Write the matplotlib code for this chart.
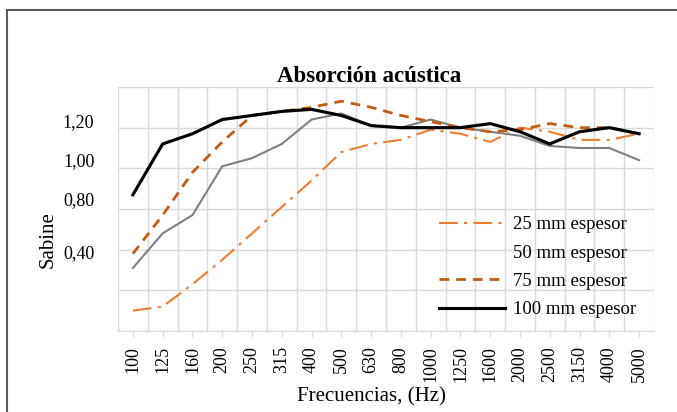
import matplotlib
matplotlib.use("Agg")
import matplotlib.pyplot as plt
from matplotlib.lines import Line2D
from matplotlib.patches import Rectangle

frecuencias = ["100", "125", "160", "200", "250", "315", "400", "500", "630", "800",
               "1000", "1250", "1600", "2000", "2500", "3150", "4000", "5000"]
esp_25 = [0.30, 0.32, 0.43, 0.55, 0.68, 0.81, 0.94, 1.08, 1.12, 1.14, 1.19, 1.17,
          1.13, 1.20, 1.18, 1.14, 1.14, 1.17]
esp_50 = [0.51, 0.68, 0.77, 1.01, 1.05, 1.12, 1.24, 1.27, 1.21, 1.20, 1.24, 1.20,
          1.18, 1.16, 1.11, 1.10, 1.10, 1.04]
esp_75 = [0.58, 0.77, 0.98, 1.13, 1.26, 1.28, 1.30, 1.33, 1.30, 1.26, 1.23, 1.20,
          1.18, 1.19, 1.22, 1.20, 1.20, 1.17]
esp_100 = [0.87, 1.12, 1.17, 1.24, 1.26, 1.28, 1.29, 1.26, 1.21, 1.20, 1.20, 1.20,
           1.22, 1.18, 1.12, 1.18, 1.20, 1.17]
series_labels = ["25 mm espesor", "50 mm espesor", "75 mm espesor", "100 mm espesor"]
ytick_labels = ["1,20", "1,00", "0,80", "0,40"]

SERIF = "Liberation Serif"
fig = plt.figure(figsize=(6.77, 4.12), dpi=100)
ax = fig.add_axes([118/677, 1-331/412, 536/677, 244/412])

x = list(range(len(frecuencias)))
l25, = ax.plot(x, esp_25, color="#ED7D31", lw=1.5, dashes=(9, 3, 1.5, 3), zorder=3)
l50, = ax.plot(x, esp_50, color="#7F7F7F", lw=1.5, zorder=3)
l75, = ax.plot(x, esp_75, color="#C55A11", lw=2.0, dashes=(3.5, 2.5), zorder=3)
l100, = ax.plot(x, esp_100, color="#000000", lw=2.25, zorder=4)

ax.set_xlim(-0.5, len(frecuencias) - 0.5)
ax.set_ylim(0.2, 1.4)

# vertical gridlines at category boundaries
for k in range(len(frecuencias) + 1):
    ax.axvline(k - 0.5, color="#D9D9D9", lw=1.0, zorder=1)
# horizontal gridlines
ax.set_yticks([0.2, 0.4, 0.6, 0.8, 1.0, 1.2, 1.4])
ax.set_yticklabels([""] * 7)
ax.yaxis.grid(True, color="#D9D9D9", lw=1.0)
ax.set_axisbelow(True)
ax.tick_params(axis="y", which="both", length=0)
ax.set_yticks([1.236, 1.042, 0.849, 0.589], minor=True)
ax.set_yticklabels(ytick_labels, minor=True, fontfamily=SERIF, fontsize=13)
ax.tick_params(axis="y", which="minor", pad=17)

ax.set_xticks(x)
ax.set_xticklabels(frecuencias, rotation=90, fontfamily=SERIF, fontsize=13)
ax.tick_params(axis="x", length=4, color="#D9D9D9", pad=7)

for s in ["top", "right", "left"]:
    ax.spines[s].set_visible(False)
ax.spines["bottom"].set_color("#D9D9D9")

ax.text((371-118)/536, (331-397)/244, "Frecuencias, (Hz)", transform=ax.transAxes,
        ha="center", va="center", fontfamily=SERIF, fontsize=15)
ax.text((48-118)/536, (331-240)/244, "Sabine", transform=ax.transAxes, rotation=90,
        ha="center", va="center", fontfamily=SERIF, fontsize=15)
fig.text(369/677, 1-76/412, "Absorción acústica", ha="center", va="center",
         fontfamily=SERIF, fontsize=16.5, fontweight="bold")

h50 = Line2D([], [], linestyle="none")
leg = ax.legend([l25, h50, l75, l100], series_labels, loc="upper left",
                bbox_to_anchor=((439-118)/536, (331-216)/244), frameon=False,
                prop={"family": SERIF, "size": 13.5}, handlelength=3.5,
                handletextpad=0.45, labelspacing=0.6, borderpad=0, borderaxespad=0)

fig.patches.append(Rectangle((7/677, -0.1), 1.2, 1 - 10/412 + 0.1, transform=fig.transFigure,
                             fill=False, edgecolor="#595959", lw=1.5, clip_on=False))

fig.savefig("out.png", dpi=100)
